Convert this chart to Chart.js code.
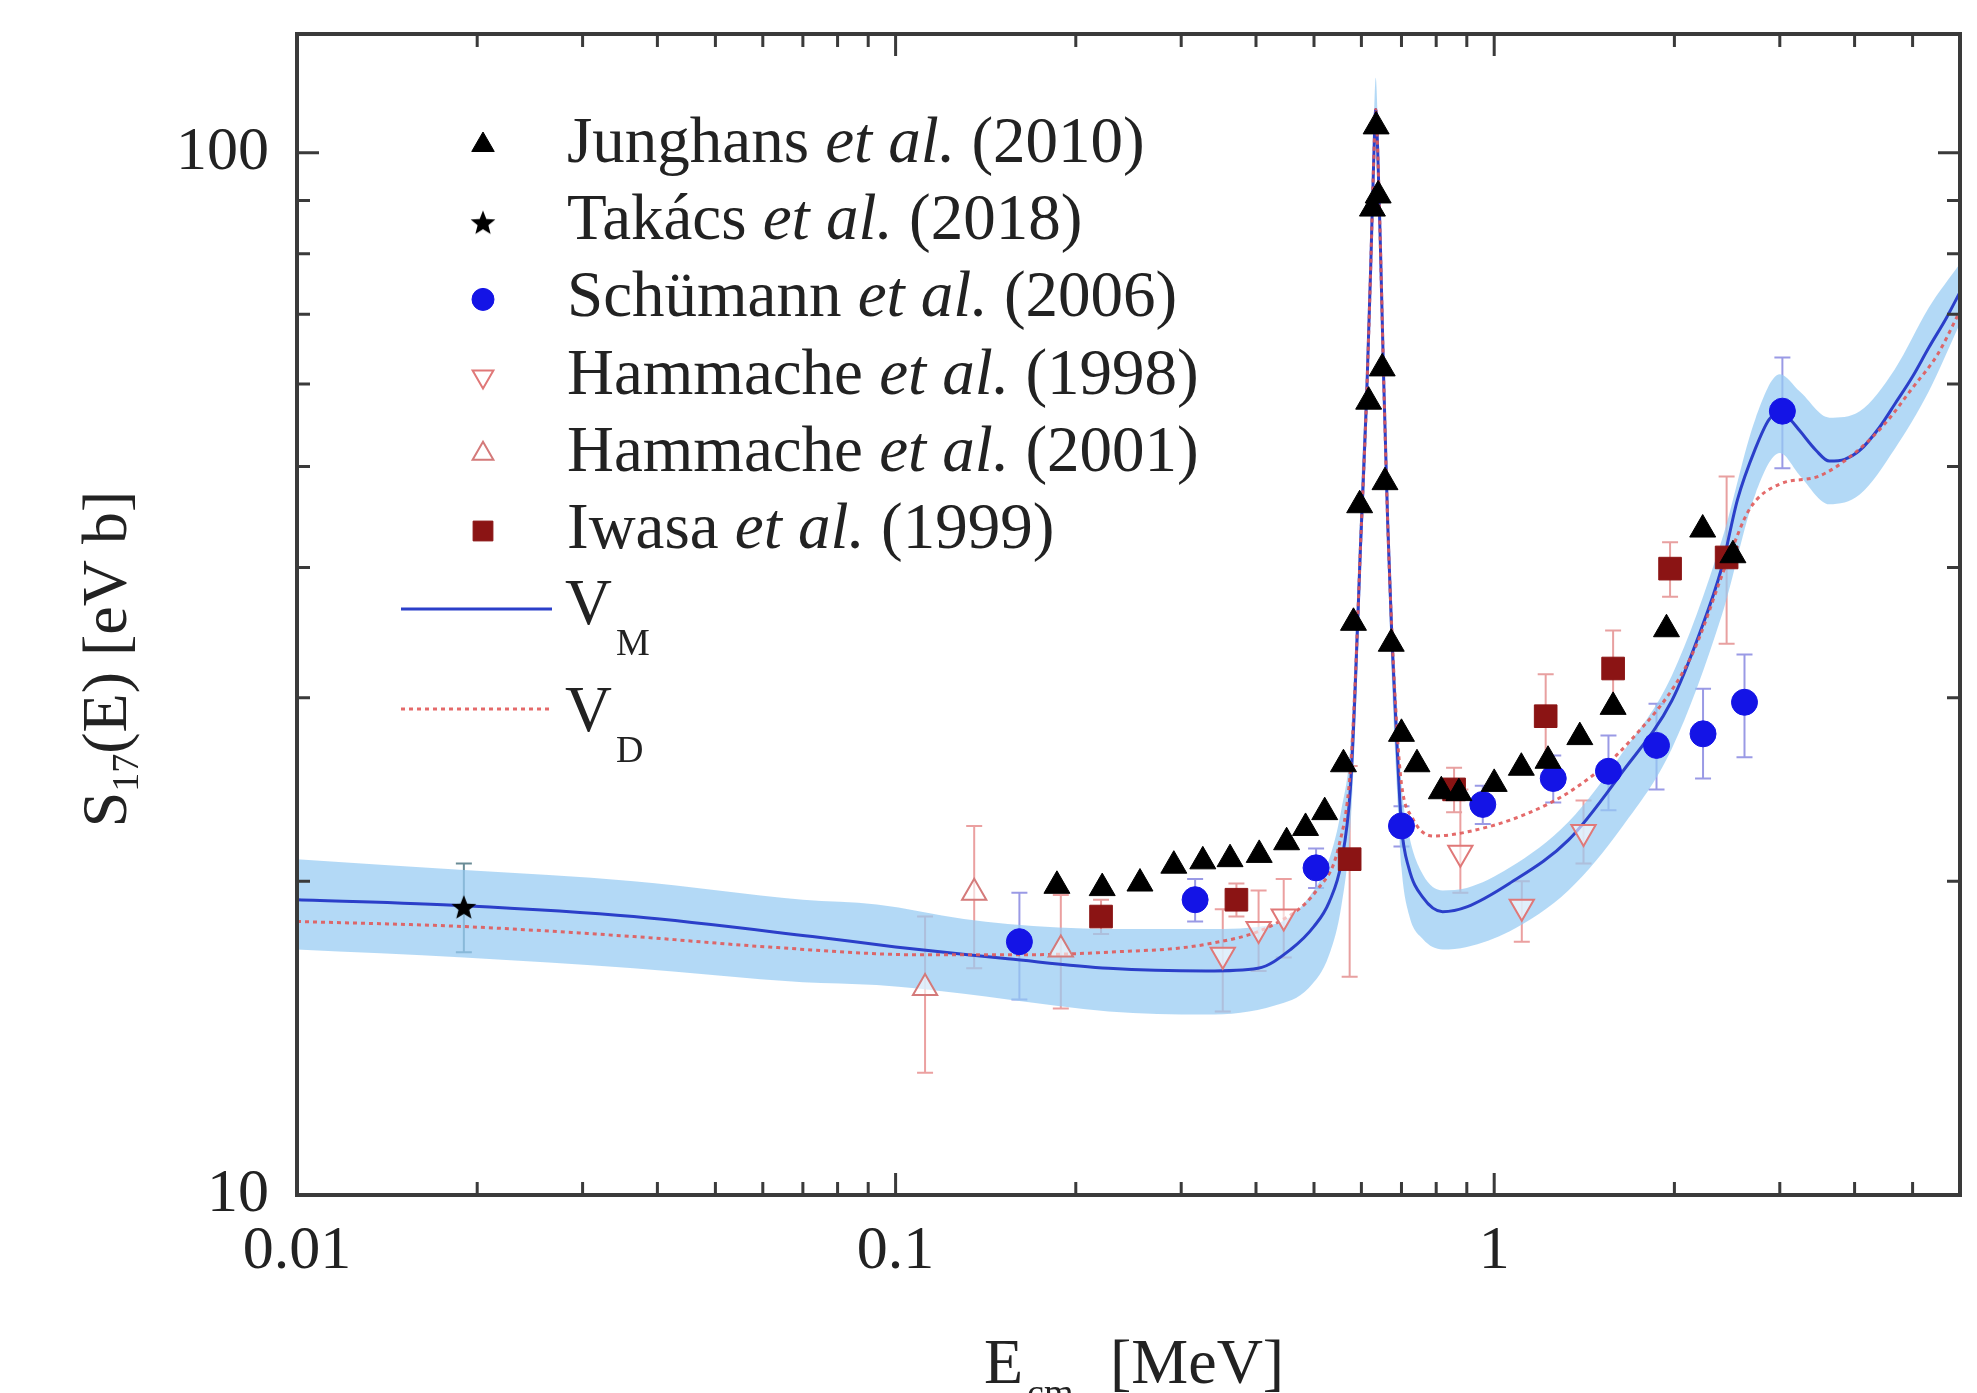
<!DOCTYPE html>
<html>
<head>
<meta charset="utf-8">
<script src="https://cdn.jsdelivr.net/npm/chart.js@4.4.1/dist/chart.umd.min.js"></script>
<style>
  html, body { margin: 0; padding: 0; background: #fff; }
  #chart { display: block; }
</style>
</head>
<body>
<canvas id="chart" width="1977" height="1393"></canvas>
<script>
// axis ticks
const xTickValues = [0.01, 0.1, 1];
const xTickLabels = ["0.01", "0.1", "1"];
const yTickValues = [10, 100];
const yTickLabels = ["10", "100"];

// Junghans et al. (2010)
const junghansE = [0.186, 0.2214, 0.256, 0.2916, 0.326, 0.362, 0.405, 0.45, 0.484, 0.521, 0.56, 0.582, 0.596, 0.617, 0.626, 0.635, 0.64, 0.65, 0.657, 0.673, 0.70, 0.743, 0.816, 0.873, 1.0, 1.11, 1.23, 1.39, 1.58, 1.94, 2.23, 2.505];
const junghansS = [19.8, 19.7, 19.9, 20.7, 20.9, 21.0, 21.2, 21.8, 22.5, 23.3, 25.9, 35.4, 45.9, 57.7, 88.4, 106, 91, 62.1, 48.3, 33.8, 27.7, 25.9, 24.4, 24.3, 24.8, 25.7, 26.1, 27.5, 29.4, 34.9, 43.5, 41.1];

// Takacs et al. (2018)
const takacsE = [0.019];
const takacsS = [18.9];
const takacsLo = [17.1];
const takacsHi = [20.8];

// Schumann et al. (2006)
const schumannE = [0.161, 0.3165, 0.504, 0.70, 0.957, 1.255, 1.552, 1.867, 2.233, 2.619, 3.03];
const schumannS = [17.5, 19.2, 20.6, 22.6, 23.7, 25.1, 25.5, 27.0, 27.7, 29.7, 56.5];
const schumannLo = [15.4, 18.3, 19.7, 21.6, 22.7, 23.8, 23.4, 24.5, 25.1, 26.3, 49.8];
const schumannHi = [19.5, 20.1, 21.5, 23.6, 24.7, 26.4, 27.6, 29.6, 30.6, 33.0, 63.6];

// Hammache et al. (1998)
const ham98E = [0.352, 0.404, 0.445, 0.878, 1.112, 1.41];
const ham98S = [17.0, 18.0, 18.5, 21.3, 18.9, 22.3];
const ham98Lo = [15.0, 16.4, 16.9, 19.5, 17.5, 20.8];
const ham98Hi = [18.8, 19.6, 20.1, 24.5, 20.0, 23.9];

// Hammache et al. (2001)
const ham01E = [0.112, 0.1353, 0.1888];
const ham01S = [15.8, 19.5, 17.2];
const ham01Lo = [13.1, 16.5, 15.1];
const ham01Hi = [18.5, 22.6, 19.4];

// Iwasa et al. (1999)
const iwasaE = [0.2204, 0.371, 0.5735, 0.857, 1.219, 1.58, 1.967, 2.445];
const iwasaS = [18.5, 19.2, 21.0, 24.5, 28.8, 32.0, 39.9, 40.9];
const iwasaLo = [17.8, 18.5, 16.2, 23.3, 26.0, 29.2, 37.5, 33.8];
const iwasaHi = [19.2, 19.9, 25.8, 25.7, 31.6, 34.8, 42.3, 48.9];

// V_M curve
const vmE = [0.01, 0.019, 0.0365, 0.0726, 0.1, 0.132, 0.154, 0.227, 0.33, 0.403, 0.457, 0.50, 0.53, 0.556, 0.575, 0.585, 0.598, 0.612, 0.622, 0.629, 0.634, 0.639, 0.646, 0.654, 0.664, 0.675, 0.688, 0.70, 0.72, 0.76, 0.82, 0.9, 1.06, 1.33, 1.64, 1.98, 2.2, 2.4, 2.55, 2.73, 2.88, 3.0, 3.12, 3.24, 3.45, 3.63, 3.85, 4.08, 4.4, 4.67, 5.0, 5.32, 5.7, 6.0];
const vmS = [19.2, 18.95, 18.5, 17.7, 17.3, 17.0, 16.85, 16.5, 16.4, 16.5, 17.2, 18.1, 19.1, 20.9, 24.5, 30, 42, 58, 78, 98, 110, 100, 80, 60, 44, 34, 27, 22.6, 20.6, 19.3, 18.7, 18.9, 19.9, 21.9, 25.5, 29.8, 34.5, 40.0, 46.5, 52, 55.5, 56.3, 55.5, 54.1, 51.8, 50.6, 50.8, 51.8, 54.5, 57.4, 61, 65, 69.5, 73.5];

// V_D curve
const vdE = [0.01, 0.0188, 0.0365, 0.061, 0.111, 0.16, 0.227, 0.33, 0.43, 0.505, 0.55, 0.575, 0.585, 0.598, 0.612, 0.622, 0.629, 0.634, 0.639, 0.646, 0.654, 0.664, 0.675, 0.688, 0.70, 0.73, 0.79, 0.9, 1.13, 1.37, 1.67, 2.13, 2.45, 2.67, 3.0, 3.47, 4.0, 4.5, 5.0, 5.5, 6.0];
const vdS = [18.3, 18.1, 17.7, 17.3, 17.0, 17.0, 17.1, 17.4, 18.2, 19.6, 21.6, 25.5, 30.5, 42, 58, 78, 98, 110, 100, 80, 60, 44, 34.5, 28, 24.8, 23.0, 22.1, 22.3, 23.2, 24.6, 27.1, 32.8, 40.5, 45.5, 48.1, 48.9, 51.5, 55, 59.5, 64, 70.5];

// uncertainty band of V_M
const bandE = [0.01, 0.019, 0.0365, 0.07, 0.093, 0.13, 0.154, 0.227, 0.33, 0.43, 0.49, 0.53, 0.556, 0.575, 0.585, 0.598, 0.612, 0.622, 0.629, 0.634, 0.639, 0.646, 0.654, 0.664, 0.675, 0.688, 0.70, 0.72, 0.76, 0.82, 0.9, 1.06, 1.33, 1.64, 1.98, 2.4, 2.73, 3.0, 3.24, 3.63, 4.08, 4.67, 5.32, 6.0];
const bandLo = [17.2, 16.9, 16.5, 16.0, 15.9, 15.6, 15.4, 15.0, 14.9, 15.2, 15.8, 17.0, 19.0, 22.5, 27.5, 38.5, 53.5, 72, 91, 102, 93, 74, 55.5, 40.5, 31, 24.5, 20.6, 18.6, 17.6, 17.2, 17.3, 17.9, 19.6, 22.6, 26.8, 36.0, 47, 51.5, 49, 46.0, 47, 52, 59, 68.6];
const bandHi = [21.0, 20.5, 20.0, 19.2, 19.0, 18.4, 18.2, 18.0, 18.0, 18.2, 19.3, 21.0, 23.5, 27, 33, 46, 63, 84, 105, 118, 107, 86, 65, 48, 37, 29.5, 24.8, 22.2, 20.3, 19.6, 19.7, 20.6, 22.8, 26.6, 31.5, 42.5, 55.5, 61.3, 59, 55.7, 56.5, 62, 71, 78.3];

const serif = '"Liberation Serif", "Times New Roman", serif';

const toPoints = function (xs, ys) {
  return xs.map((x, i) => ({ x: x, y: ys[i] }));
};

const makeStar = function (size) {
  const c = document.createElement("canvas");
  c.width = size;
  c.height = size;
  const g = c.getContext("2d");
  g.fillStyle = "#000";
  g.beginPath();
  for (let i = 0; i < 10; i++) {
    const r = i % 2 === 0 ? size / 2 : size / 4.6;
    const a = -Math.PI / 2 + (i * Math.PI) / 5;
    g.lineTo(size / 2 + r * Math.cos(a), size / 2 + r * Math.sin(a) + size * 0.05);
  }
  g.closePath();
  g.fill();
  return c;
};

const starImg = makeStar(26);

const markerSet = function (label, xs, ys, style) {
  return Object.assign(
    {
      label: label,
      data: toPoints(xs, ys),
      showLine: false,
    },
    style,
  );
};

const datasets = [
  markerSet("Junghans", junghansE, junghansS, {
    pointStyle: "triangle",
    pointRadius: 15,
    pointBackgroundColor: "#000",
    pointBorderColor: "#000",
    pointBorderWidth: 1,
    order: 1,
  }),
  markerSet("Takacs", takacsE, takacsS, {
    pointStyle: starImg,
    pointRadius: 13,
    order: 2,
    errLo: takacsLo,
    errHi: takacsHi,
    errColor: "#6a8c96",
  }),
  markerSet("Schumann", schumannE, schumannS, {
    pointStyle: "circle",
    pointRadius: 13,
    pointBackgroundColor: "#1414e6",
    pointBorderColor: "#1414e6",
    pointBorderWidth: 1,
    order: 3,
    errLo: schumannLo,
    errHi: schumannHi,
    errColor: "rgba(120,120,220,0.75)",
  }),
  markerSet("Hammache98", ham98E, ham98S, {
    pointStyle: "triangle",
    pointRotation: 180,
    pointRadius: 14,
    pointBackgroundColor: "rgba(255,255,255,0.6)",
    pointBorderColor: "#e07878",
    pointBorderWidth: 2,
    order: 4,
    errLo: ham98Lo,
    errHi: ham98Hi,
    errColor: "#eba0a0",
  }),
  markerSet("Hammache01", ham01E, ham01S, {
    pointStyle: "triangle",
    pointRadius: 14,
    pointBackgroundColor: "rgba(255,255,255,0.6)",
    pointBorderColor: "#d47a7a",
    pointBorderWidth: 2,
    order: 5,
    errLo: ham01Lo,
    errHi: ham01Hi,
    errColor: "#eba0a0",
  }),
  markerSet("Iwasa", iwasaE, iwasaS, {
    pointStyle: "rect",
    pointRadius: 16,
    pointBackgroundColor: "#8b1414",
    pointBorderColor: "#8b1414",
    pointBorderWidth: 1,
    order: 6,
    errLo: iwasaLo,
    errHi: iwasaHi,
    errColor: "#e8a0a0",
  }),
  {
    label: "VD",
    data: toPoints(vdE, vdS),
    showLine: true,
    borderColor: "rgba(225,90,90,0.9)",
    borderWidth: 3,
    borderDash: [4, 4],
    pointRadius: 0,
    cubicInterpolationMode: "monotone",
    order: 10,
  },
  {
    label: "VM",
    data: toPoints(vmE, vmS),
    showLine: true,
    borderColor: "#2b3fc9",
    borderWidth: 3,
    pointRadius: 0,
    cubicInterpolationMode: "monotone",
    order: 11,
  },
  {
    label: "bandLo",
    data: toPoints(bandE, bandLo),
    showLine: true,
    borderWidth: 0,
    borderColor: "rgba(0,0,0,0)",
    pointRadius: 0,
    cubicInterpolationMode: "monotone",
    fill: false,
    order: 20,
  },
  {
    label: "bandHi",
    data: toPoints(bandE, bandHi),
    showLine: true,
    borderWidth: 0,
    borderColor: "rgba(0,0,0,0)",
    backgroundColor: "rgba(150,202,242,0.72)",
    pointRadius: 0,
    cubicInterpolationMode: "monotone",
    fill: "-1",
    order: 21,
  },
];

const errorBars = {
  id: "errorBars",
  beforeDatasetsDraw(chart) {
    const { ctx, chartArea, scales } = chart;
    ctx.save();
    ctx.beginPath();
    ctx.rect(chartArea.left, chartArea.top, chartArea.right - chartArea.left, chartArea.bottom - chartArea.top);
    ctx.clip();
    chart.data.datasets.forEach((ds) => {
      if (!ds.errLo) return;
      ctx.strokeStyle = ds.errColor;
      ctx.lineWidth = 2;
      ds.data.forEach((p, i) => {
        const x = scales.x.getPixelForValue(p.x);
        const y1 = scales.y.getPixelForValue(ds.errLo[i]);
        const y2 = scales.y.getPixelForValue(ds.errHi[i]);
        ctx.beginPath();
        ctx.moveTo(x, y1);
        ctx.lineTo(x, y2);
        ctx.moveTo(x - 8, y1);
        ctx.lineTo(x + 8, y1);
        ctx.moveTo(x - 8, y2);
        ctx.lineTo(x + 8, y2);
        ctx.stroke();
      });
    });
    ctx.restore();
  },
};

const frame = {
  id: "frame",
  afterDraw(chart) {
    const { ctx, chartArea: a, scales } = chart;
    ctx.save();
    ctx.strokeStyle = "#3a3a3a";
    ctx.lineWidth = 3;
    ctx.beginPath();
    [0.01, 0.1, 1].forEach((d) => {
      for (let m = 1; m <= 9; m++) {
        const v = m * d;
        if (v > scales.x.max) break;
        const x = scales.x.getPixelForValue(v);
        const len = m === 1 ? 22 : 13;
        ctx.moveTo(x, a.bottom);
        ctx.lineTo(x, a.bottom - len);
        ctx.moveTo(x, a.top);
        ctx.lineTo(x, a.top + len);
      }
    });
    [10, 100].forEach((d) => {
      for (let m = 1; m <= 9; m++) {
        const v = m * d;
        if (v > scales.y.max) break;
        const y = scales.y.getPixelForValue(v);
        const len = m === 1 ? 22 : 13;
        ctx.moveTo(a.left, y);
        ctx.lineTo(a.left + len, y);
        ctx.moveTo(a.right, y);
        ctx.lineTo(a.right - len, y);
      }
    });
    ctx.stroke();
    ctx.lineWidth = 4;
    ctx.strokeRect(a.left, a.top, a.right - a.left, a.bottom - a.top);
    ctx.restore();
  },
};

const legendRows = [
  { ds: 0, name: "Junghans ", year: " (2010)" },
  { ds: 1, name: "Takács ", year: " (2018)" },
  { ds: 2, name: "Schümann ", year: " (2006)" },
  { ds: 3, name: "Hammache ", year: " (1998)" },
  { ds: 4, name: "Hammache ", year: " (2001)" },
  { ds: 5, name: "Iwasa ", year: " (1999)" },
];

const texts = {
  id: "texts",
  afterDraw(chart) {
    const ctx = chart.ctx;
    const main = "64px " + serif;
    const big = "65px " + serif;
    const ital = "italic 65px " + serif;
    const sub = "38px " + serif;
    ctx.save();
    ctx.fillStyle = "#222";

    // legend of data sets
    legendRows.forEach((row, i) => {
      const y = 145 + i * 77.2;
      const ds = chart.data.datasets[row.ds];
      ctx.save();
      ctx.fillStyle = ds.pointBackgroundColor || "#000";
      ctx.strokeStyle = ds.pointBorderColor || "#000";
      ctx.lineWidth = ds.pointBorderWidth || 0;
      Chart.helpers.drawPoint(ctx, {
        pointStyle: ds.pointStyle,
        rotation: ds.pointRotation || 0,
        radius: ds.pointRadius - 2,
        borderWidth: ds.pointBorderWidth || 0,
      }, 483, y);
      ctx.restore();
      ctx.textBaseline = "middle";
      let x = 567;
      ctx.font = big;
      ctx.fillText(row.name, x, y);
      x += ctx.measureText(row.name).width;
      ctx.font = ital;
      ctx.fillText("et al.", x, y);
      x += ctx.measureText("et al.").width;
      ctx.font = big;
      ctx.fillText(row.year, x, y);
    });

    // legend of curves
    ctx.lineWidth = 3;
    ctx.strokeStyle = "#2b3fc9";
    ctx.beginPath();
    ctx.moveTo(401, 609);
    ctx.lineTo(552, 609);
    ctx.stroke();
    ctx.strokeStyle = "rgba(225,90,90,0.9)";
    ctx.setLineDash([4, 4]);
    ctx.beginPath();
    ctx.moveTo(401, 709);
    ctx.lineTo(552, 709);
    ctx.stroke();
    ctx.setLineDash([]);
    ctx.textBaseline = "alphabetic";
    ctx.font = big;
    ctx.fillText("V", 565, 624);
    ctx.fillText("V", 565, 731);
    ctx.font = sub;
    ctx.fillText("M", 616, 655);
    ctx.fillText("D", 616, 762);

    // x axis title
    ctx.font = main;
    ctx.fillText("E", 984, 1383);
    const wE = ctx.measureText("E").width;
    ctx.font = sub;
    ctx.fillText("cm", 984 + wE + 4, 1405);
    ctx.font = main;
    ctx.fillText("[MeV]", 1110, 1383);

    // y axis title
    ctx.translate(126, 659);
    ctx.rotate(-Math.PI / 2);
    ctx.font = main;
    const wS = ctx.measureText("S").width;
    const wRest = ctx.measureText("(E) [eV b]").width;
    ctx.font = sub;
    const w17 = ctx.measureText("17").width;
    const x0 = -(wS + w17 + wRest) / 2;
    ctx.font = main;
    ctx.fillText("S", x0, 0);
    ctx.font = sub;
    ctx.fillText("17", x0 + wS, 12);
    ctx.font = main;
    ctx.fillText("(E) [eV b]", x0 + wS + w17, 0);
    ctx.restore();
  },
};

const tickFont = { family: serif, size: 62 };

const noPadding = function (scale) {
  scale.paddingTop = 0;
  scale.paddingBottom = 0;
  scale.paddingLeft = 0;
  scale.paddingRight = 0;
};

new Chart(document.querySelector("#chart"), {
  type: "scatter",
  data: { datasets: datasets },
  options: {
    responsive: false,
    devicePixelRatio: 1,
    animation: false,
    events: [],
    layout: { padding: { top: 34, right: 3, left: 0, bottom: 0 } },
    plugins: {
      legend: { display: false },
      tooltip: { enabled: false },
    },
    scales: {
      x: {
        type: "logarithmic",
        position: "bottom",
        min: 0.01,
        max: 6,
        grid: { display: false, drawTicks: false },
        border: { display: false },
        ticks: {
          font: tickFont,
          color: "#222",
          padding: 20,
          maxRotation: 0,
          autoSkip: false,
          callback: (v, i) => xTickLabels[i],
        },
        afterBuildTicks: (scale) => {
          scale.ticks = xTickValues.map((v) => ({ value: v }));
        },
        afterFit: (scale) => {
          scale.height = 198;
          noPadding(scale);
        },
      },
      y: {
        type: "logarithmic",
        position: "left",
        min: 10,
        max: 130,
        grid: { display: false, drawTicks: false },
        border: { display: false },
        ticks: {
          font: tickFont,
          color: "#222",
          padding: 28,
          autoSkip: false,
          callback: (v, i) => yTickLabels[i],
        },
        afterBuildTicks: (scale) => {
          scale.ticks = yTickValues.map((v) => ({ value: v }));
        },
        afterFit: (scale) => {
          scale.width = 297;
          noPadding(scale);
        },
      },
    },
  },
  plugins: [errorBars, frame, texts],
});
</script>
</body>
</html>
